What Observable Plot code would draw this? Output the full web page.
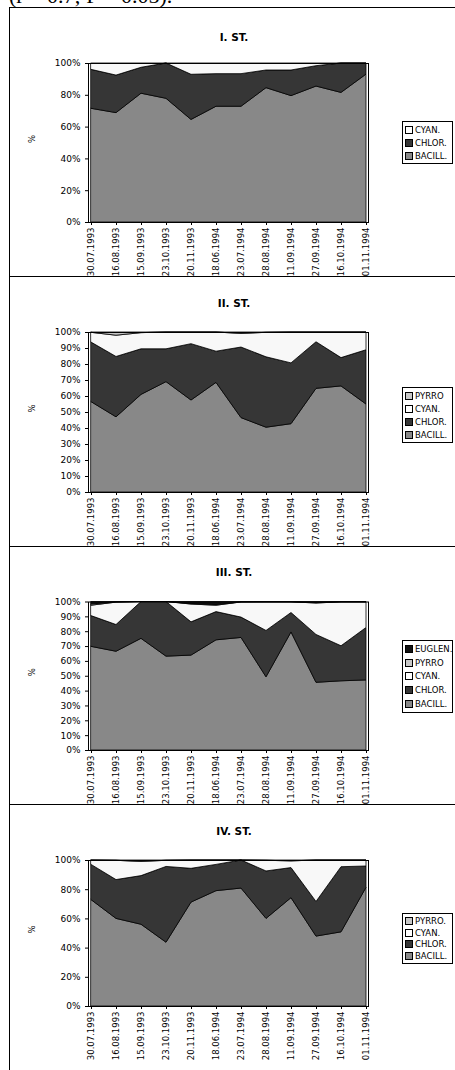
<!DOCTYPE html>
<html>
<head>
<meta charset="utf-8">
<script src="https://cdn.jsdelivr.net/npm/d3@7"></script>
<script src="https://cdn.jsdelivr.net/npm/@observablehq/plot@0.6"></script>
<style>
  html, body { margin: 0; padding: 0; background: #fff; }
  #root { position: relative; width: 455px; height: 1070px; overflow: hidden; background: #fff; }
  .abs { position: absolute; }
  .hline { position: absolute; left: 9px; width: 446px; height: 1px; background: #000; }
  .legend { position: absolute; border: 1px solid #000; background: #fff; box-sizing: border-box;
            font-family: "DejaVu Sans", sans-serif; font-size: 8.5px; color: #000; padding: 1px 0; }
  .legend .item { display: flex; align-items: center; white-space: nowrap; }
  .legend .sw { width: 6px; height: 6px; border: 1px solid #000; margin: 0 2px 0 2px; flex: none; }
  .toptext { position: absolute; left: 9px; top: -15px; font-family: "Liberation Serif", serif; font-size: 22px; line-height: 1; white-space: nowrap; }
</style>
</head>
<body>
<div id="root"></div>
<script>
// ---- data ----
const dates = ["30.07.1993","16.08.1993","15.09.1993","23.10.1993","20.11.1993","18.06.1994","23.07.1994","28.08.1994","11.09.1994","27.09.1994","16.10.1994","01.11.1994"];

// Station I
const bacill1 = [71.5, 68.8, 81.0, 77.8, 64.5, 72.8, 72.8, 84.5, 79.5, 85.5, 81.5, 93.0];
const chlor1  = [24.5, 23.6, 16.3, 22.2, 28.4, 20.5, 20.5, 11.1, 16.1, 12.8, 18.5, 7.0];
const cyan1   = [4.0, 7.6, 2.7, 0.0, 7.1, 6.7, 6.7, 4.4, 4.4, 1.7, 0.0, 0.0];

// Station II
const bacill2 = [56.5, 47.0, 61.0, 69.0, 57.5, 68.5, 46.5, 40.5, 42.7, 64.8, 66.3, 55.0];
const chlor2  = [37.2, 37.7, 28.5, 20.5, 35.2, 19.5, 44.1, 44.0, 38.0, 29.1, 17.7, 33.9];
const cyan2   = [6.1, 13.3, 10.1, 10.5, 7.3, 12.0, 8.5, 15.3, 19.3, 6.1, 16.0, 11.1];
const pyrro2  = [0.2, 2.0, 0.4, 0.0, 0.0, 0.0, 0.9, 0.2, 0.0, 0.0, 0.0, 0.0];

// Station III
const bacill3 = [69.8, 66.5, 75.2, 63.2, 63.9, 74.2, 75.8, 49.3, 79.5, 45.6, 46.6, 47.2];
const chlor3  = [20.7, 18.0, 24.8, 36.8, 22.4, 19.0, 13.7, 31.2, 13.1, 32.2, 23.6, 35.3];
const cyan3   = [7.0, 15.1, 0.0, 0.0, 12.0, 4.3, 10.2, 19.3, 7.2, 21.2, 29.6, 17.3];
const pyrro3  = [0.8, 0.2, 0.0, 0.0, 0.4, 0.5, 0.1, 0.0, 0.0, 0.3, 0.0, 0.0];
const euglen3 = [1.7, 0.2, 0.0, 0.0, 1.3, 2.0, 0.2, 0.2, 0.2, 0.7, 0.2, 0.2];

// Station IV
const bacill4 = [72.9, 60.0, 56.0, 43.7, 71.2, 79.0, 80.8, 60.0, 74.2, 47.9, 50.8, 81.3];
const chlor4  = [24.1, 26.6, 33.3, 51.9, 23.1, 18.0, 19.2, 32.5, 20.6, 23.7, 44.6, 14.6];
const cyan4   = [3.0, 13.2, 9.7, 4.2, 5.7, 3.0, 0.0, 7.3, 4.6, 28.4, 4.6, 4.1];
const pyrro4  = [0.0, 0.2, 1.0, 0.2, 0.0, 0.0, 0.0, 0.2, 0.6, 0.0, 0.0, 0.0];

const titles = ["I. ST.", "II. ST.", "III. ST.", "IV. ST."];
const ticks20 = [0, 0.2, 0.4, 0.6, 0.8, 1];
const ticks10 = [0, 0.1, 0.2, 0.3, 0.4, 0.5, 0.6, 0.7, 0.8, 0.9, 1];

const colorOf = {"BACILL.": "#888888", "CHLOR.": "#363636", "CYAN.": "#f8f8f8", "PYRRO": "#c4c4c4", "PYRRO.": "#c4c4c4", "EUGLEN.": "#111111"};
const swatchOf = {"BACILL.": "#888888", "CHLOR.": "#363636", "CYAN.": "#ffffff", "PYRRO": "#c8c8c8", "PYRRO.": "#c8c8c8", "EUGLEN.": "#111111"};

const panels = [
  {top: 8, height: 268, mt: 55, mb: 54, titleDy: -29.5, ticks: ticks20,
   series: [["BACILL.", bacill1], ["CHLOR.", chlor1], ["CYAN.", cyan1]],
   legend: {top: 121, height: 43}},
  {top: 277, height: 269, mt: 55, mb: 54, titleDy: -33.3, ticks: ticks10,
   series: [["BACILL.", bacill2], ["CHLOR.", chlor2], ["CYAN.", cyan2], ["PYRRO", pyrro2]],
   legend: {top: 387, height: 56}},
  {top: 547, height: 257, mt: 54.5, mb: 54, titleDy: -33, ticks: ticks10,
   series: [["BACILL.", bacill3], ["CHLOR.", chlor3], ["CYAN.", cyan3], ["PYRRO", pyrro3], ["EUGLEN.", euglen3]],
   legend: {top: 640, height: 73}},
  {top: 805, height: 265, mt: 55, mb: 64, titleDy: -33, ticks: ticks20,
   series: [["BACILL.", bacill4], ["CHLOR.", chlor4], ["CYAN.", cyan4], ["PYRRO.", pyrro4]],
   legend: {top: 913, height: 51}}
];

const root = document.getElementById("root");

// top text (clipped caption of the page)
const tt = document.createElement("div");
tt.className = "toptext";
tt.textContent = "(r = 0.7; P = 0.05).";
root.appendChild(tt);

// frame lines
const vline = document.createElement("div");
vline.className = "abs";
Object.assign(vline.style, {left: "9px", top: "7px", width: "1px", height: "1063px", background: "#000"});
root.appendChild(vline);
for (const y of [7, 276, 546, 804]) {
  const h = document.createElement("div");
  h.className = "hline";
  h.style.top = y + "px";
  root.appendChild(h);
}

panels.forEach((p, k) => {
  const names = p.series.map(d => d[0]);
  const data = [];
  for (const [name, vals] of p.series) {
    vals.forEach((v, i) => data.push({date: dates[i], series: name, value: v}));
  }
  const chart = Plot.plot({
    width: 455,
    height: p.height,
    marginLeft: 88,
    marginRight: 87,
    marginTop: p.mt,
    marginBottom: p.mb,
    style: {fontFamily: "DejaVu Sans, sans-serif", fontSize: "9px", background: "transparent", overflow: "visible", color: "#000"},
    x: {type: "point", domain: dates, padding: 0, axis: null},
    y: {domain: [0, 1], axis: null},
    color: {domain: names, range: names.map(n => colorOf[n])},
    marks: [
      Plot.areaY(data, {x: "date", y: "value", z: "series", fill: "series", order: names, offset: "normalize", stroke: "#000", strokeWidth: 0.8}),
      Plot.frame({stroke: "#000"}),
      Plot.axisY({ticks: p.ticks, tickSize: 3, tickPadding: 5, tickFormat: d => Math.round(d * 100) + "%", fontSize: 9, label: null}),
      Plot.axisX({tickRotate: -90, tickSize: 3, tickPadding: 2, fontSize: 8.5, label: null}),
      Plot.text([titles[k]], {text: d => d, frameAnchor: "top", dy: p.titleDy, dx: 5.5, fontWeight: "bold", fontSize: 10.5}),
      Plot.text(["%"], {text: d => d, frameAnchor: "left", dx: -56, rotate: -90, fontSize: 8.5})
    ]
  });
  chart.style.position = "absolute";
  chart.style.left = "0px";
  chart.style.top = p.top + "px";
  root.appendChild(chart);

  // legend (top entry = last stacked series)
  const lg = document.createElement("div");
  lg.className = "legend";
  Object.assign(lg.style, {left: "402px", top: p.legend.top + "px", width: "51px", height: p.legend.height + "px"});
  const items = names.slice().reverse();
  const ih = (p.legend.height - 4) / items.length;
  for (const n of items) {
    const it = document.createElement("div");
    it.className = "item";
    it.style.height = ih + "px";
    const sw = document.createElement("span");
    sw.className = "sw";
    sw.style.background = swatchOf[n];
    const tx = document.createElement("span");
    tx.textContent = n;
    it.appendChild(sw);
    it.appendChild(tx);
    lg.appendChild(it);
  }
  root.appendChild(lg);
});
</script>
</body>
</html>
